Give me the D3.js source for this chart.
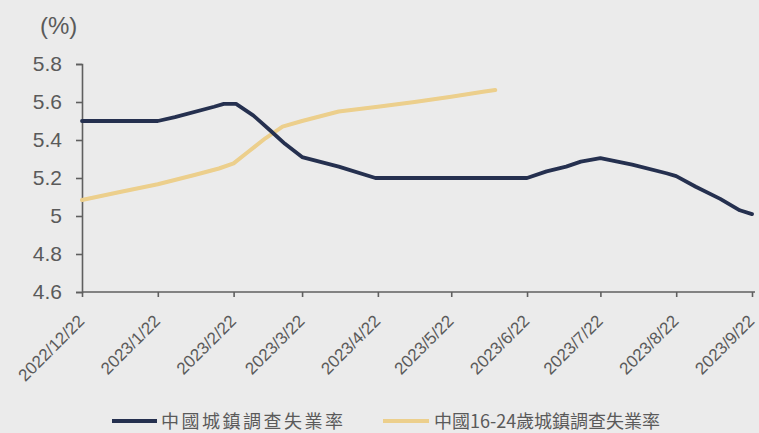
<!DOCTYPE html>
<html>
<head>
<meta charset="utf-8">
<script src="https://cdn.jsdelivr.net/npm/d3@7/dist/d3.min.js"></script>
<style>
  html, body { margin: 0; padding: 0; background: #ebebeb; }
  svg { display: block; }
</style>
</head>
<body>
<svg id="chart" width="759" height="433"></svg>
<script>
// China surveyed urban unemployment rate (%)
const urbanDates = [
  "2022-12-22", "2023-01-22", "2023-01-29", "2023-02-14", "2023-02-18", "2023-02-23",
  "2023-03-02", "2023-03-09", "2023-03-15", "2023-03-22", "2023-04-06", "2023-04-21",
  "2023-06-22", "2023-06-30", "2023-07-08", "2023-07-14", "2023-07-22", "2023-08-04",
  "2023-08-18", "2023-08-22", "2023-08-30", "2023-09-09", "2023-09-17", "2023-09-22"
];
const urbanRate = [
  5.50, 5.50, 5.52, 5.575, 5.59, 5.59,
  5.53, 5.45, 5.38, 5.31, 5.26, 5.20,
  5.20, 5.235, 5.26, 5.286, 5.305, 5.27,
  5.225, 5.21, 5.154, 5.09, 5.03, 5.01
];

// China surveyed urban unemployment rate, ages 16-24 (%)
const youthDates = [
  "2022-12-22", "2023-01-07", "2023-01-22", "2023-02-06", "2023-02-16", "2023-02-22",
  "2023-02-28", "2023-03-07", "2023-03-14", "2023-03-22", "2023-04-06", "2023-04-22",
  "2023-05-07", "2023-05-22", "2023-06-04", "2023-06-09"
];
const youthRate = [
  5.084, 5.128, 5.167, 5.216, 5.25, 5.277,
  5.338, 5.409, 5.47, 5.50, 5.55, 5.575,
  5.60, 5.628, 5.654, 5.663
];

const seriesNames = ["中國城鎮調查失業率", "中國16-24歲城鎮調查失業率"];
const seriesColors = ["#25304f", "#eccf8c"];

const yTicks = [4.6, 4.8, 5.0, 5.2, 5.4, 5.6, 5.8];
const yTickLabels = ["4.6", "4.8", "5", "5.2", "5.4", "5.6", "5.8"];
const xTickDates = [
  "2022-12-22", "2023-01-22", "2023-02-22", "2023-03-22", "2023-04-22",
  "2023-05-22", "2023-06-22", "2023-07-22", "2023-08-22", "2023-09-22"
];
const unitLabel = "(%)";

const parse = d3.timeParse("%Y-%m-%d");
const fmt = d3.timeFormat("%Y/%-m/%-d");

const svg = d3.select("#chart");
const textColor = "#5a5a5a";
const axisColor = "#5f5f5f";

const x = d3.scaleTime()
  .domain([parse("2022-12-22"), parse("2023-09-22")])
  .range([82, 752]);
const y = d3.scaleLinear()
  .domain([4.6, 5.8])
  .range([292, 64]);

// y axis
const yAxis = svg.append("g")
  .attr("transform", "translate(82,0)")
  .call(d3.axisLeft(y)
    .tickValues(yTicks)
    .tickSize(6)
    .tickPadding(14)
    .tickFormat((d, i) => yTickLabels[i]));

// x axis
const xAxis = svg.append("g")
  .attr("transform", "translate(0,292)")
  .call(d3.axisBottom(x)
    .tickValues(xTickDates.map(parse))
    .tickSize(5)
    .tickFormat(fmt));

[yAxis, xAxis].forEach(g => {
  g.attr("font-family", "'Liberation Sans', Arial, sans-serif");
  g.select(".domain").attr("stroke", axisColor).attr("stroke-width", 1.6);
  g.selectAll(".tick line").attr("stroke", axisColor).attr("stroke-width", 1.6);
  g.selectAll("text").attr("fill", textColor);
});
xAxis.select(".domain").attr("d", "M82,0H755");

yAxis.attr("font-size", 21);
xAxis.attr("font-size", 17);

xAxis.selectAll(".tick text")
  .attr("text-anchor", "end")
  .attr("x", 0).attr("y", 0).attr("dy", 0)
  .attr("transform", "translate(3,30) rotate(-45)");

// unit label
svg.append("text")
  .attr("x", 40).attr("y", 34)
  .attr("fill", textColor)
  .attr("font-family", "'Liberation Sans', Arial, sans-serif")
  .attr("font-size", 24)
  .text(unitLabel);

// soft edge on the pale series
const defs = svg.append("defs");
defs.append("filter").attr("id", "soft")
  .attr("filterUnits", "userSpaceOnUse")
  .attr("x", 0).attr("y", 0).attr("width", 759).attr("height", 433)
  .append("feGaussianBlur").attr("stdDeviation", 0.6);

const line = d3.line()
  .x(d => x(d.date))
  .y(d => y(d.value));

const youth = youthDates.map((d, i) => ({ date: parse(d), value: youthRate[i] }));
const urban = urbanDates.map((d, i) => ({ date: parse(d), value: urbanRate[i] }));

svg.append("path")
  .datum(youth)
  .attr("d", line)
  .attr("fill", "none")
  .attr("stroke", seriesColors[1])
  .attr("stroke-width", 4)
  .attr("stroke-linejoin", "round")
  .attr("stroke-linecap", "round")
  .attr("filter", "url(#soft)");

svg.append("path")
  .datum(urban)
  .attr("d", line)
  .attr("fill", "none")
  .attr("stroke", seriesColors[0])
  .attr("stroke-width", 3.8)
  .attr("stroke-linejoin", "round")
  .attr("stroke-linecap", "round");

// legend
const legendItems = [
  { x: 112, w: 45, textX: 161, len: 182 },
  { x: 383, w: 46, textX: 434, len: 226 }
];
const legend = svg.append("g");
legendItems.forEach((it, i) => {
  legend.append("line")
    .attr("x1", it.x).attr("x2", it.x + it.w)
    .attr("y1", 421).attr("y2", 421)
    .attr("stroke", seriesColors[i])
    .attr("stroke-width", 4)
    .attr("filter", i === 1 ? "url(#soft)" : null);
  legend.append("text")
    .attr("x", it.textX).attr("y", 428)
    .attr("fill", textColor)
    .attr("textLength", it.len)
    .attr("lengthAdjust", "spacing")
    .attr("font-family", "'Noto Sans CJK TC', 'Noto Sans CJK SC', sans-serif")
    .attr("font-size", 18)
    .text(seriesNames[i]);
});
</script>
</body>
</html>
